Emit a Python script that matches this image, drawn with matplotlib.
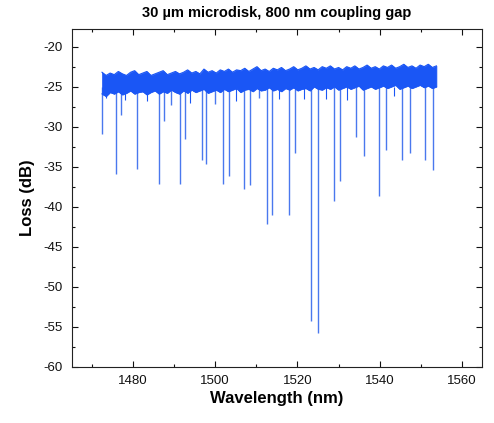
import numpy as np
import matplotlib
matplotlib.use("Agg")
import matplotlib.pyplot as plt
from matplotlib.ticker import MultipleLocator

plt.rcParams['font.family'] = ['Liberation Sans', 'DejaVu Sans']
plt.rcParams['axes.unicode_minus'] = False

# ---- data ----
title = "30 \u00b5m microdisk, 800 nm coupling gap"
xlabel = "Wavelength (nm)"
ylabel = "Loss (dB)"

# noise band envelope (1 nm spacing from 1472.5 to 1553.8 nm)
env_wl = np.linspace(1472.5, 1553.8, 83)
env_upper = [-23.2, -23.6, -23.3, -23.5, -23.1, -23.4, -23.6, -23.2, -23.0, -23.5,
             -23.3, -23.1, -23.6, -23.4, -23.2, -23.0, -23.5, -23.3, -23.1, -23.4,
             -23.2, -22.9, -23.3, -23.1, -23.4, -22.8, -23.2, -23.0, -23.3, -22.9,
             -23.1, -22.8, -23.2, -22.9, -23.0, -22.7, -23.1, -22.8, -22.5, -23.0,
             -22.8, -23.1, -22.7, -22.9, -22.6, -23.0, -22.8, -22.5, -22.9, -22.7,
             -22.4, -22.8, -22.6, -22.9, -22.5, -22.7, -22.4, -22.8, -22.6, -22.9,
             -22.5, -22.7, -22.4, -22.8, -22.6, -22.3, -22.7, -22.5, -22.8, -22.4,
             -22.6, -22.3, -22.7, -22.5, -22.2, -22.6, -22.4, -22.7, -22.3, -22.5,
             -22.2, -22.6, -22.4]
env_lower = [-25.9, -26.2, -25.7, -25.9, -25.6, -26.0, -25.8, -25.5, -25.9, -25.7,
             -25.6, -26.0, -25.7, -25.5, -25.9, -25.6, -25.8, -25.4, -25.7, -25.9,
             -25.5, -25.8, -25.4, -25.7, -25.5, -25.3, -25.8, -25.6, -25.4, -25.7,
             -25.3, -25.6, -25.4, -25.2, -25.7, -25.4, -25.3, -25.6, -25.2, -25.5,
             -25.4, -25.1, -25.5, -25.3, -25.6, -25.2, -25.4, -25.1, -25.5, -25.3,
             -25.2, -25.5, -25.0, -25.3, -25.4, -25.1, -25.3, -25.0, -25.4, -25.2,
             -25.0, -25.3, -25.1, -24.9, -25.4, -25.2, -25.0, -25.3, -25.1, -24.9,
             -25.2, -25.0, -24.8, -25.3, -25.1, -24.9, -25.2, -25.0, -24.8, -25.1,
             -24.9, -25.2, -25.0]

# resonance dips: wavelength (nm) and minimum loss (dB)
dip_wl = [1472.6, 1476.0, 1477.1, 1481.1, 1486.3, 1487.5, 1489.2, 1491.5, 1492.6,
          1496.7, 1497.9, 1499.9, 1501.8, 1503.3, 1507.1, 1508.5, 1510.7, 1512.5,
          1513.9, 1517.9, 1519.4, 1523.3, 1524.9, 1528.8, 1530.4, 1534.3, 1536.1,
          1539.8, 1541.6, 1545.4, 1547.3, 1551.0, 1553.0]
dip_db = [-30.9, -35.9, -28.5, -35.3, -37.1, -29.3, -27.3, -37.2, -31.5,
          -34.2, -34.6, -27.2, -37.1, -36.2, -37.8, -37.3, -26.4, -42.1,
          -41.0, -41.0, -33.25, -54.25, -55.7, -39.3, -36.8, -31.25, -33.7,
          -38.7, -32.9, -34.1, -33.3, -34.1, -35.4]

# shallow noise spikes
spike_wl = [1473.4, 1478.1, 1483.5, 1494.0, 1505.0, 1515.5, 1521.5, 1527.0, 1532.0, 1543.6]
spike_db = [-26.4, -26.7, -26.8, -27.0, -26.8, -26.6, -26.5, -26.5, -26.7, -26.2]

# ---- figure ----
fig = plt.figure(figsize=(4.94, 4.23), dpi=100)
ax = fig.add_axes([0.1457, 0.1324, 0.975 - 0.1457, 0.9314 - 0.1324])

band_col = '#1a56f5'
dip_col = '#4a78ee'

ax.vlines(dip_wl, dip_db, -25.0, color=dip_col, lw=1.0, zorder=1)
ax.vlines(spike_wl, spike_db, -25.0, color=band_col, lw=0.8, zorder=1)
ax.fill_between(env_wl, env_lower, env_upper, facecolor=band_col,
                edgecolor=band_col, lw=0.5, antialiased=False, zorder=2)
ax.plot(env_wl, env_upper, color=band_col, lw=0.8, zorder=2)
ax.plot(env_wl, env_lower, color=band_col, lw=0.8, zorder=2)

ax.set_xlim(1465.2, 1564.8)
ax.set_ylim(-60, -17.8)
ax.xaxis.set_minor_locator(MultipleLocator(10))
ax.yaxis.set_minor_locator(MultipleLocator(2.5))
ax.set_xticks([1480, 1500, 1520, 1540, 1560])
ax.set_yticks(np.arange(-60, -19, 5))

ax.tick_params(which='both', direction='in', top=True, right=True, width=0.8,
               labelsize=9.5, colors='#111111')
ax.tick_params(which='major', length=4.3)
ax.tick_params(which='minor', length=2.2)
ax.tick_params(axis='x', pad=6)
ax.tick_params(axis='y', pad=6.5)
for s in ax.spines.values():
    s.set_linewidth(0.8)
    s.set_color('#222222')

ax.set_title(title, fontsize=10.5, fontweight='bold', pad=9)
ax.set_xlabel(xlabel, fontsize=12, fontweight='bold', labelpad=3)
ax.set_ylabel(ylabel, fontsize=12, fontweight='bold', labelpad=6)

fig.savefig("out.png", dpi=100)
